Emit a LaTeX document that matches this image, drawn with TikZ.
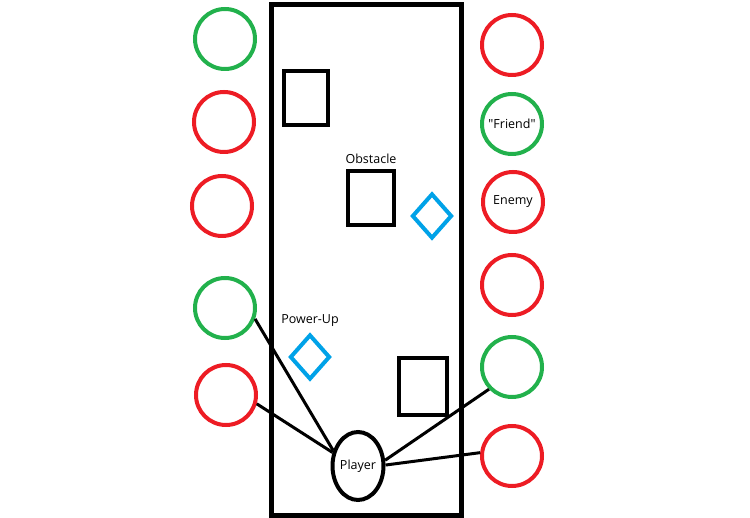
\documentclass[tikz,border=0pt]{standalone}
\usepackage{fontspec}
\setmainfont{Open Sans}
\usepackage{xcolor}
\usetikzlibrary{shapes.geometric, positioning}

\definecolor{paintgreen}{RGB}{34,177,76}
\definecolor{paintred}{RGB}{237,28,36}
\definecolor{paintblue}{RGB}{0,162,232}

\begin{document}
\begin{tikzpicture}[x=1pt, y=-1pt,
        every node/.style={font=\fontsize{12.5}{14}\selectfont},
        friendly/.style={circle, draw=paintgreen, line width=4pt, minimum size=60pt, inner sep=0pt},
        hostile/.style={circle, draw=paintred, line width=4pt, minimum size=60pt, inner sep=0pt},
        block/.style={rectangle, draw, line width=4pt, inner sep=0pt},
        bonus/.style={diamond, draw=paintblue, line width=4pt, minimum width=40pt, minimum height=45pt, inner sep=0pt},
        link/.style={line width=3pt}
    ]
        \useasboundingbox (0,0) rectangle (750,518);
        % play field
        \draw[line width=5pt] (271,5) rectangle (461,515);
        % left column
        \node[friendly] (l1) at (225,39) {};
        \node[hostile] (l2) at (224,122) {};
        \node[hostile] (l3) at (222,206) {};
        \node[friendly] (l4) at (225,308) {};
        \node[hostile] (l5) at (226,395) {};
        % right column
        \node[hostile] (r1) at (512,45) {};
        \node[friendly] (r2) at (512,124) {\textquotedbl Friend\textquotedbl};
        \node[hostile] (r3) at (513,202) {Enemy};
        \node[hostile] (r4) at (512,285) {};
        \node[friendly] (r5) at (512,367) {};
        \node[hostile] (r6) at (512,456) {};
        % obstacles
        \node[block, minimum width=44pt, minimum height=54pt] (o1) at (306,98) {};
        \node[block, minimum width=46pt, minimum height=54pt] (o2) at (371,198) {};
        \node[above=2pt of o2] (olabel) {Obstacle};
        \node[block, minimum width=48pt, minimum height=57pt] (o3) at (423,386.5) {};
        % power-ups
        \node[bonus] (p1) at (432,216) {};
        \node[bonus] (p2) at (310,357) {};
        \node[above=2pt of p2] (plabel) {Power-Up};
        % player
        \node[ellipse, draw, line width=4pt, minimum width=44pt, minimum height=68pt, inner sep=0pt] (pl) at (358,466) {Player};
        \draw[link] (l4.-20) -- (pl.148);
        \draw[link] (l5.-16) -- (pl.152);
        \draw[link] (r5.-136) -- (pl.12);
        \draw[link] (r6.174) -- (pl.2);
    \end{tikzpicture}
\end{document}
